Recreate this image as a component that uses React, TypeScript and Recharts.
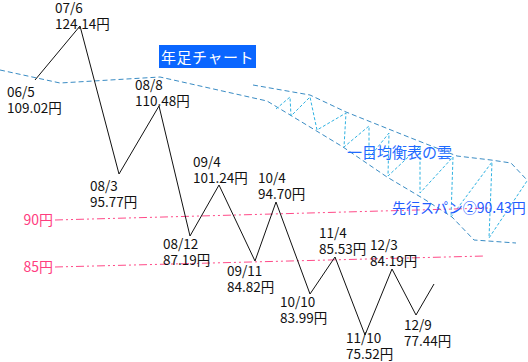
import { Line, LineChart, XAxis, YAxis } from 'recharts';

// price turning points (drawn as a schematic zigzag, positions)
const dates = ['06/5', '07/6', '08/3', '08/8', '08/12', '09/4', '09/11', '10/4', '10/10', '11/4', '11/10', '12/3', '12/9', ''];
const prices = [109.02, 124.14, 95.77, 110.48, 87.19, 101.24, 84.82, 94.7, 83.99, 85.53, 75.52, 84.19, 77.44, null];
const pricePos = [35, 80, 119, 159, 190, 219, 255, 276, 310, 335, 365, 392, 416, 434];
const priceLevel = [282, 336, 188, 256, 126, 177, 101, 160, 68, 105, 27, 93, 47, 78];

// ichimoku cloud
const spanBPos = [0, 60, 160, 267, 343, 387, 424, 452, 474, 516];
const spanBLevel = [292, 279, 285, 261, 215, 185, 163, 145, 122, 119];
const spanAPos = [253, 310, 346, 411, 457, 491, 511, 527];
const spanALevel = [277, 267, 250, 224, 206, 202, 199, 182];
const hatchPos = [276, 290, 291, 310, 317, 346, 344, 369, 369, 389, 388, 420, 420, 453, 451, 492, 489, 527];
const hatchLevel = [253, 265, 246, 265, 232, 249, 215, 236, 204, 229, 186, 216, 169, 205, 145, 200, 124, 181];

// 90円 / 85円 guide lines
const guideNames = ['90円', '85円'];
const guidePos = [[55, 490], [55, 485]];
const guideLevel = [[142, 154], [95, 106]];

const FONT = '"Noto Sans CJK JP", "Noto Sans", sans-serif';

const priceData = dates.map((d, i) => ({ x: pricePos[i], y: priceLevel[i], date: d, price: prices[i] }));
const toPoints = (xs: number[], ys: number[]) => xs.map((x, i) => ({ x, y: ys[i] }));

// where each date/price label sits relative to its turning point
const labelOffsets: Record<string, [number, number]> = {
    '06/5': [-28, 17],
    '07/6': [-25, -13],
    '08/3': [-29, 17],
    '08/8': [-24, -16],
    '08/12': [-27, 13],
    '09/4': [-26, -18],
    '09/11': [-28, 15],
    '10/4': [-18, -19],
    '10/10': [-30, 13],
    '11/4': [-16, -19],
    '11/10': [-19, 8],
    '12/3': [-22, -19],
    '12/9': [-12, 15],
};

function PriceLabel(props: any) {
    const { x, y, index } = props;
    const d = priceData[index];
    if (!d || !d.date) return null;
    const [dx, dy] = labelOffsets[d.date];
    return (
        <text x={x + dx} y={y + dy} fontSize={13.5} fontFamily={FONT} fill="#111">
            <tspan x={x + dx}>{d.date}</tspan>
            <tspan x={x + dx} dy={16}>{d.price!.toFixed(2)}円</tspan>
        </text>
    );
}

function GuideLabel(name: string) {
    return (props: any) => {
        if (props.index !== 0) return null;
        return (
            <text x={props.x - 2} y={props.y} dy={5} textAnchor="end" fontSize={14} fontFamily={FONT} fill="#ff3d7f">
                {name}
            </text>
        );
    };
}

export default function App() {
    return (
        <div style={{ position: 'absolute', left: 0, top: 0, width: 528, height: 362, background: '#fff' }}>
            <LineChart width={528} height={362} margin={{ top: 0, right: 0, bottom: 0, left: 0 }}>
                <XAxis type="number" dataKey="x" domain={[0, 528]} hide />
                <YAxis type="number" dataKey="y" domain={[0, 362]} hide />
                <Line data={toPoints(spanBPos, spanBLevel)} dataKey="y" stroke="#3a8cc4" strokeDasharray="5 3" dot={false} activeDot={false} isAnimationActive={false} />
                <Line data={toPoints(spanAPos, spanALevel)} dataKey="y" stroke="#3a8cc4" strokeDasharray="5 3" dot={false} activeDot={false} isAnimationActive={false} />
                <Line data={toPoints(hatchPos, hatchLevel)} dataKey="y" stroke="#2fb2e2" strokeDasharray="3 2" dot={false} activeDot={false} isAnimationActive={false} />
                {guideNames.map((name, i) => (
                    <Line
                        key={name}
                        data={toPoints(guidePos[i], guideLevel[i])}
                        dataKey="y"
                        stroke="#ff4a88"
                        strokeDasharray="8 3 2 3 2 3"
                        dot={false}
                        activeDot={false}
                        label={GuideLabel(name)}
                        isAnimationActive={false}
                    />
                ))}
                <Line
                    data={priceData}
                    dataKey="y"
                    stroke="#111"
                    strokeWidth={1}
                    dot={false}
                    activeDot={false}
                    label={(p: any) => <PriceLabel {...p} />}
                    isAnimationActive={false}
                />
            </LineChart>
            <div style={{ position: 'absolute', left: 159, top: 45, width: 97, height: 23, background: '#0a66ff', color: '#fff', fontFamily: FONT, fontSize: 15, lineHeight: '23px', textAlign: 'center', letterSpacing: 0.5 }}>
                年足チャート
            </div>
            <div style={{ position: 'absolute', left: 347, top: 144, fontFamily: FONT, fontSize: 15, lineHeight: '16px', color: '#1f6bff', whiteSpace: 'nowrap' }}>
                一目均衡表の雲
            </div>
            <div style={{ position: 'absolute', left: 392, top: 199, fontFamily: FONT, fontSize: 14, lineHeight: '16px', color: '#1f5cff', whiteSpace: 'nowrap' }}>
                先行スパン②90.43円
            </div>
        </div>
    );
}
